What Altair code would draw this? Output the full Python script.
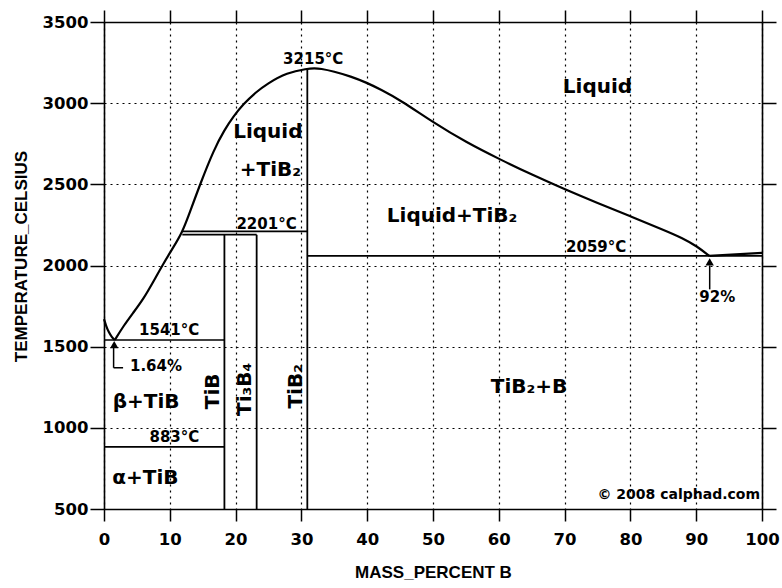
import altair as alt
import pandas as pd

# ---------------- data (mass % B, temperature in Celsius) ----------------
# Ti-rich liquidus branch from pure Ti down to the 1.64 % eutectic
liq_ti_x = [0.0, 0.3, 0.7, 1.2, 1.64]
liq_ti_t = [1670, 1630, 1590, 1558, 1541]

# main liquidus from the eutectic over the TiB2 maximum down to the 92 % eutectic
liq_main_x = [1.64, 3.0, 4.5, 6.0, 7.4, 8.8, 10.3, 11.9, 13.2, 14.6, 16.7, 18.3,
              19.7, 21.2, 23.0, 24.8, 27.8, 30.9, 32.0, 32.9, 34.9, 37.5, 40.0,
              42.0, 45.0, 50.1, 55.0, 60.2, 65.0, 70.1, 75.0, 80.0, 85.0, 88.0,
              90.1, 92.0]
liq_main_t = [1541, 1630, 1712, 1795, 1893, 1996, 2097, 2201, 2345, 2500, 2714, 2835,
              2920, 2995, 3065, 3120, 3188, 3213, 3215, 3213, 3196, 3165, 3125,
              3085, 3020, 2880, 2760, 2653, 2560, 2468, 2385, 2304, 2220, 2168,
              2119, 2059]

# boron-rich liquidus
liq_b_x = [92.0, 100.0]
liq_b_t = [2059, 2078]

# horizontal invariant lines
h_x1 = [0.0, 0.0, 11.9, 11.9, 30.9]
h_x2 = [18.3, 18.3, 31.0, 23.2, 100.0]
h_t = [1541, 883, 2210, 2190, 2059]

# vertical compound lines (TiB, Ti3B4, TiB2)
v_x = [18.3, 23.2, 30.9]
v_t1 = [500, 500, 500]
v_t2 = [2190, 2190, 3215]

# arrows
arrow_seg_x1 = [1.46, 1.46, 92.05]
arrow_seg_x2 = [1.46, 2.9, 92.05]
arrow_seg_t1 = [1505, 1370, 1853]
arrow_seg_t2 = [1370, 1370, 2000]
arrow_head_x = [1.55, 92.05]
arrow_head_t = [1512, 2022]

# labels
big_text = ["Liquid", "Liquid", "+TiB₂", "Liquid+TiB₂", "β+TiB", "α+TiB", "TiB₂+B"]
big_x = [75.0, 24.9, 25.3, 52.9, 6.4, 6.3, 64.6]
big_t = [3101, 2825, 2591, 2302, 1158, 690, 1250]

small_text = ["3215°C", "2201°C", "2059°C", "1541°C", "883°C", "1.64%", "92%"]
small_x = [31.8, 24.7, 74.8, 9.9, 10.7, 7.9, 93.2]
small_t = [3274, 2254, 2117, 1601, 943, 1380, 1803]

rot_text = ["TiB", "Ti₃B₄", "TiB₂"]
rot_x = [16.6, 21.5, 29.2]
rot_t = [1225, 1237, 1256]

copy_text = ["© 2008 calphad.com"]
copy_x = [99.7]
copy_t = [585]

x_ticks = list(range(0, 101, 10))
y_ticks = list(range(500, 3501, 500))

# ---------------- frames ----------------
curve_df = pd.concat([
    pd.DataFrame({"seg": "ti", "x": liq_ti_x, "t": liq_ti_t, "o": range(len(liq_ti_x))}),
    pd.DataFrame({"seg": "main", "x": liq_main_x, "t": liq_main_t, "o": range(len(liq_main_x))}),
    pd.DataFrame({"seg": "b", "x": liq_b_x, "t": liq_b_t, "o": range(len(liq_b_x))}),
], ignore_index=True)

h_df = pd.DataFrame({"x1": h_x1, "x2": h_x2, "t": h_t})
v_df = pd.DataFrame({"x": v_x, "t1": v_t1, "t2": v_t2})
aseg_df = pd.DataFrame({"x1": arrow_seg_x1, "x2": arrow_seg_x2, "t1": arrow_seg_t1, "t2": arrow_seg_t2})
ahead_df = pd.DataFrame({"x": arrow_head_x, "t": arrow_head_t})
big_df = pd.DataFrame({"label": big_text, "x": big_x, "t": big_t})
small_df = pd.DataFrame({"label": small_text, "x": small_x, "t": small_t})
rot_df = pd.DataFrame({"label": rot_text, "x": rot_x, "t": rot_t})
copy_df = pd.DataFrame({"label": copy_text, "x": copy_x, "t": copy_t})

xs = alt.Scale(domain=[0, 100], nice=False, zero=False)
ys = alt.Scale(domain=[500, 3500], nice=False, zero=False)

common_axis = dict(
    tickColor="black", domainColor="black", domainWidth=1.6, tickWidth=1.5,
    labelColor="black", labelFont="DejaVu Sans", labelFontWeight="bold",
    labelFontSize=16.5, labelFlush=False, labelOverlap=False,
    titleColor="black", titleFont="Liberation Sans", titleFontWeight="bold",
    titleFontSize=17,
)

x_bottom = alt.Axis(
    orient="bottom", values=x_ticks, tickSize=12, labelPadding=10,
    grid=True, gridDash=[2, 4], gridColor="black", gridWidth=1.2, gridOpacity=1,
    title="MASS_PERCENT B", titleX=329, titleY=63, titleBaseline="middle",
    titleAlign="center", format="d", **common_axis,
)
y_left = alt.Axis(
    orient="left", values=y_ticks, tickSize=14, labelPadding=2,
    grid=True, gridDash=[2, 4], gridColor="black", gridWidth=1.2, gridOpacity=1,
    title="TEMPERATURE_CELSIUS", titleX=-83, titleY=234, titleAngle=270,
    titleBaseline="middle", titleAlign="center", format="d", **common_axis,
)
x_top = alt.Axis(orient="top", values=x_ticks, tickSize=12, labels=False,
                 grid=False, title=None, tickColor="black", tickWidth=1.5,
                 domainColor="black", domainWidth=1.6)
y_right = alt.Axis(orient="right", values=y_ticks, tickSize=14, labels=False,
                   grid=False, title=None, tickColor="black", tickWidth=1.5,
                   domainColor="black", domainWidth=1.6)

curves = alt.Chart(curve_df).mark_line(
    color="black", strokeWidth=2.2, interpolate="basis"
).encode(
    x=alt.X("x:Q", scale=xs, axis=x_bottom),
    y=alt.Y("t:Q", scale=ys, axis=y_left),
    detail="seg:N",
    order="o:Q",
)

hlines = alt.Chart(h_df).mark_rule(color="black", strokeWidth=1.6).encode(
    x=alt.X("x1:Q", scale=xs, axis=x_top),
    x2="x2:Q",
    y=alt.Y("t:Q", scale=ys, axis=y_right),
)

vlines = alt.Chart(v_df).mark_rule(color="black", strokeWidth=1.8).encode(
    x=alt.X("x:Q", scale=xs, axis=None),
    y=alt.Y("t1:Q", scale=ys, axis=None),
    y2="t2:Q",
)

arrow_segs = alt.Chart(aseg_df).mark_rule(color="black", strokeWidth=1.5).encode(
    x=alt.X("x1:Q", scale=xs, axis=None),
    x2="x2:Q",
    y=alt.Y("t1:Q", scale=ys, axis=None),
    y2="t2:Q",
)

arrow_heads = alt.Chart(ahead_df).mark_point(
    shape="triangle-up", filled=True, color="black", size=70, opacity=1
).encode(
    x=alt.X("x:Q", scale=xs, axis=None),
    y=alt.Y("t:Q", scale=ys, axis=None),
)

def text_layer(df, size, angle=0, align="center"):
    props = dict(font="DejaVu Sans", fontWeight="bold", fontSize=size,
                 color="black", align=align, baseline="middle")
    if angle:
        props["angle"] = angle
    return alt.Chart(df).mark_text(**props).encode(
        x=alt.X("x:Q", scale=xs, axis=None),
        y=alt.Y("t:Q", scale=ys, axis=None),
        text="label:N",
    )

big_lbl = text_layer(big_df, 20)
small_lbl = text_layer(small_df, 15)
rot_lbl = text_layer(rot_df, 20, angle=270)
copy_lbl = text_layer(copy_df, 14, align="right")

chart = alt.layer(
    curves, hlines, vlines, arrow_segs, arrow_heads,
    big_lbl, small_lbl, rot_lbl, copy_lbl,
).resolve_axis(x="independent", y="independent").properties(
    width=658, height=487,
    padding={"left": 104, "top": 22, "right": 20, "bottom": 79},
    autosize=alt.AutoSizeParams(type="none"),
    background="white",
).configure_view(stroke=None)

chart.save("out.html", embed_options={"renderer": "svg", "actions": False})
